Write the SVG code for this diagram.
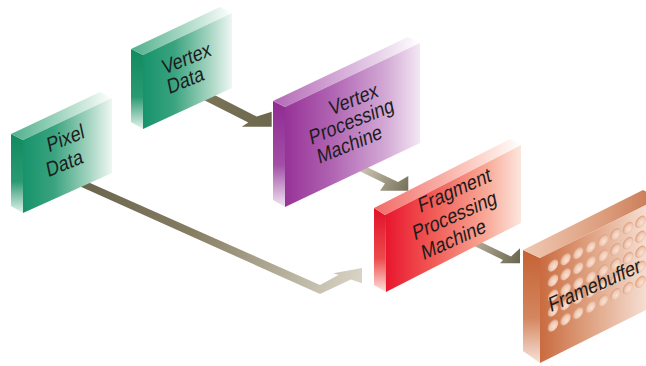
<svg xmlns="http://www.w3.org/2000/svg" width="646" height="366" viewBox="0 0 646 366">
<style>
.lbl{font-family:"Liberation Sans",Arial,Helvetica,sans-serif;font-size:18px;fill:#1c1c1c;text-anchor:middle}
</style>
<defs>
<linearGradient id="gFront" x1="0" y1="0" x2="1" y2="0"><stop offset="0" stop-color="#16936b"/><stop offset="0.35" stop-color="#3aa37f"/><stop offset="0.75" stop-color="#a6d5c2"/><stop offset="1" stop-color="#eef7f3"/></linearGradient>
<linearGradient id="gSide" x1="0" y1="0" x2="0" y2="1"><stop offset="0" stop-color="#128a60"/><stop offset="0.6" stop-color="#2a9a72"/><stop offset="1" stop-color="#e6f3ed"/></linearGradient>
<linearGradient id="gTop" x1="0" y1="0" x2="1" y2="0"><stop offset="0" stop-color="#4fb08d"/><stop offset="0.7" stop-color="#c9e6da"/><stop offset="1" stop-color="#ffffff"/></linearGradient>
<linearGradient id="pFront" x1="0" y1="0" x2="1" y2="0"><stop offset="0" stop-color="#973398"/><stop offset="0.35" stop-color="#b064b2"/><stop offset="0.75" stop-color="#d3aad5"/><stop offset="1" stop-color="#f3e7f4"/></linearGradient>
<linearGradient id="pSide" x1="0" y1="0" x2="0" y2="1"><stop offset="0" stop-color="#8f2a92"/><stop offset="0.6" stop-color="#a24ea6"/><stop offset="1" stop-color="#f1e4f2"/></linearGradient>
<linearGradient id="pTop" x1="0" y1="0" x2="1" y2="0"><stop offset="0" stop-color="#b469b7"/><stop offset="0.7" stop-color="#e6d0e8"/><stop offset="1" stop-color="#ffffff"/></linearGradient>
<linearGradient id="rFront" x1="0" y1="0" x2="1" y2="0"><stop offset="0" stop-color="#e8152e"/><stop offset="0.35" stop-color="#f15a55"/><stop offset="0.75" stop-color="#f9aa98"/><stop offset="1" stop-color="#fde6de"/></linearGradient>
<linearGradient id="rSide" x1="0" y1="0" x2="0" y2="1"><stop offset="0" stop-color="#e1102a"/><stop offset="0.6" stop-color="#ec4a4a"/><stop offset="1" stop-color="#fde2dc"/></linearGradient>
<linearGradient id="rTop" x1="0" y1="0" x2="1" y2="0"><stop offset="0" stop-color="#f26a66"/><stop offset="0.7" stop-color="#fcd2c8"/><stop offset="1" stop-color="#ffffff"/></linearGradient>
<linearGradient id="fFront" x1="0" y1="0" x2="1" y2="0"><stop offset="0" stop-color="#c96b3f"/><stop offset="0.4" stop-color="#dea07f"/><stop offset="0.8" stop-color="#f2d4c4"/><stop offset="1" stop-color="#f9ebe3"/></linearGradient>
<linearGradient id="fSide" x1="0" y1="0" x2="0" y2="1"><stop offset="0" stop-color="#c46234"/><stop offset="0.6" stop-color="#d4865f"/><stop offset="1" stop-color="#f6e2d8"/></linearGradient>
<linearGradient id="fTop" x1="0" y1="0" x2="1" y2="0"><stop offset="0" stop-color="#f0c8b2"/><stop offset="0.6" stop-color="#dc9c7c"/><stop offset="1" stop-color="#c87650"/></linearGradient>
<radialGradient id="dimG" cx="0.55" cy="0.55" r="0.6" fx="0.6" fy="0.65"><stop offset="0" stop-color="#fae2d4"/><stop offset="0.6" stop-color="#f0c8b2"/><stop offset="1" stop-color="#d3916e"/></radialGradient>
<linearGradient id="aPix" gradientUnits="userSpaceOnUse" x1="84" y1="180" x2="362" y2="275"><stop offset="0" stop-color="#6a644e"/><stop offset="0.4" stop-color="#857d62"/><stop offset="1" stop-color="#d8d3c5"/></linearGradient>
<linearGradient id="aVtx" gradientUnits="userSpaceOnUse" x1="200" y1="92" x2="272" y2="127"><stop offset="0" stop-color="#7b7458"/><stop offset="1" stop-color="#6c674e"/></linearGradient>
<linearGradient id="aVpm" gradientUnits="userSpaceOnUse" x1="360" y1="168" x2="408" y2="190"><stop offset="0" stop-color="#cdc7b4"/><stop offset="1" stop-color="#77715a"/></linearGradient>
<linearGradient id="aFrg" gradientUnits="userSpaceOnUse" x1="470" y1="240" x2="520" y2="262"><stop offset="0" stop-color="#bab39d"/><stop offset="1" stop-color="#6b6650"/></linearGradient>
<ellipse id="dimple" rx="5.3" ry="5.6" fill="url(#dimG)"/>
</defs>

<g id="connectors">
<polygon fill="url(#aVtx)" points="195,85 256.7,116.5 271.7,111.7 271.7,126.7 241.7,126.7 248.3,122.5 188,92"/>
<polygon fill="url(#aPix)" points="72,175 320,285 338.5,275.1 333.3,273.3 362,268 362,283.3 351,279.5 320,294 68,181"/>
<polygon fill="url(#aVpm)" points="352,160 398,182 408.3,176 408.3,190.7 380,190.7 385,183.5 347,165"/>
<polygon fill="url(#aFrg)" points="462,233 511,256.5 520,248.3 520,263.3 500,263.3 503,260 458,238"/>
</g>

<g id="node-pixel-data">
<polygon fill="url(#gSide)" points="11,134 23,140 23,213 11,206"/>
<polygon fill="url(#gTop)" points="11,134 100,92 112,98 23,140"/>
<polygon fill="url(#gFront)" points="23,140 112,98 112,173 23,213"/>
<text class="lbl" transform="translate(67,145) rotate(-12) skewY(-10) scale(1,1.15)">Pixel</text>
<text class="lbl" transform="translate(66,170) rotate(-12) skewY(-10) scale(1,1.15)">Data</text>
</g>

<g id="node-vertex-data">
<polygon fill="url(#gSide)" points="131,49 143,55 143,129 131,122"/>
<polygon fill="url(#gTop)" points="131,49 220,7 232,13 143,55"/>
<polygon fill="url(#gFront)" points="143,55 232,13 232,88 143,129"/>
<text class="lbl" transform="translate(188,65) rotate(-12) skewY(-10) scale(1,1.15)">Vertex</text>
<text class="lbl" transform="translate(187,87) rotate(-12) skewY(-10) scale(1,1.15)">Data</text>
</g>

<g id="node-vertex-processing">
<polygon fill="url(#pSide)" points="273,101 285,107 285,207 273,200"/>
<polygon fill="url(#pTop)" points="273,101 408,37 420,43 285,107"/>
<polygon fill="url(#pFront)" points="285,107 420,43 420,143 285,207"/>
<text class="lbl" transform="translate(355,106) rotate(-12) skewY(-10) scale(1,1.15)">Vertex</text>
<text class="lbl" transform="translate(353,128) rotate(-12) skewY(-10) scale(1,1.15)">Processing</text>
<text class="lbl" transform="translate(351,151) rotate(-12) skewY(-10) scale(1,1.15)">Machine</text>
</g>

<g id="node-fragment-processing">
<polygon fill="url(#rSide)" points="374,208 385,215 386,292 374,285"/>
<polygon fill="url(#rTop)" points="374,208 510,139 521,145 385,215"/>
<polygon fill="url(#rFront)" points="385,215 521,145 521,223 386,292"/>
<text class="lbl" transform="translate(456,197) rotate(-12) skewY(-12) scale(1,1.15)">Fragment</text>
<text class="lbl" transform="translate(456,222) rotate(-12) skewY(-12) scale(1,1.15)">Processing</text>
<text class="lbl" transform="translate(455,246) rotate(-12) skewY(-12) scale(1,1.15)">Machine</text>
</g>

<g id="node-framebuffer">
<polygon fill="url(#fSide)" points="523,250 540,258 540,363 523,351"/>
<polygon fill="url(#fTop)" points="523,250 643,190 660,198 540,258"/>
<polygon fill="url(#fFront)" points="540,258 660,198 660,303 540,363"/>
<g transform="matrix(1,-0.5,0,1,540,258)">
<use href="#dimple" x="13" y="14"/><use href="#dimple" x="25.5" y="14"/><use href="#dimple" x="38" y="14"/><use href="#dimple" x="50.5" y="14"/><use href="#dimple" x="63" y="14"/><use href="#dimple" x="75.5" y="14"/><use href="#dimple" x="88" y="14"/><use href="#dimple" x="100.5" y="14"/>
<use href="#dimple" x="13" y="29"/><use href="#dimple" x="25.5" y="29"/><use href="#dimple" x="38" y="29"/><use href="#dimple" x="50.5" y="29"/><use href="#dimple" x="63" y="29"/><use href="#dimple" x="75.5" y="29"/><use href="#dimple" x="88" y="29"/><use href="#dimple" x="100.5" y="29"/>
<use href="#dimple" x="13" y="44"/><use href="#dimple" x="25.5" y="44"/><use href="#dimple" x="38" y="44"/><use href="#dimple" x="50.5" y="44"/><use href="#dimple" x="63" y="44"/><use href="#dimple" x="75.5" y="44"/><use href="#dimple" x="88" y="44"/><use href="#dimple" x="100.5" y="44"/>
<use href="#dimple" x="13" y="59"/><use href="#dimple" x="25.5" y="59"/><use href="#dimple" x="38" y="59"/><use href="#dimple" x="50.5" y="59"/><use href="#dimple" x="63" y="59"/><use href="#dimple" x="75.5" y="59"/><use href="#dimple" x="88" y="59"/><use href="#dimple" x="100.5" y="59"/>
<use href="#dimple" x="13" y="74"/><use href="#dimple" x="25.5" y="74"/><use href="#dimple" x="38" y="74"/><use href="#dimple" x="50.5" y="74"/><use href="#dimple" x="63" y="74"/><use href="#dimple" x="75.5" y="74"/><use href="#dimple" x="88" y="74"/><use href="#dimple" x="100.5" y="74"/>
</g>
<text class="lbl" transform="translate(596,292) rotate(-12) skewY(-12) scale(1,1.15)">Framebuffer</text>
</g>
</svg>
